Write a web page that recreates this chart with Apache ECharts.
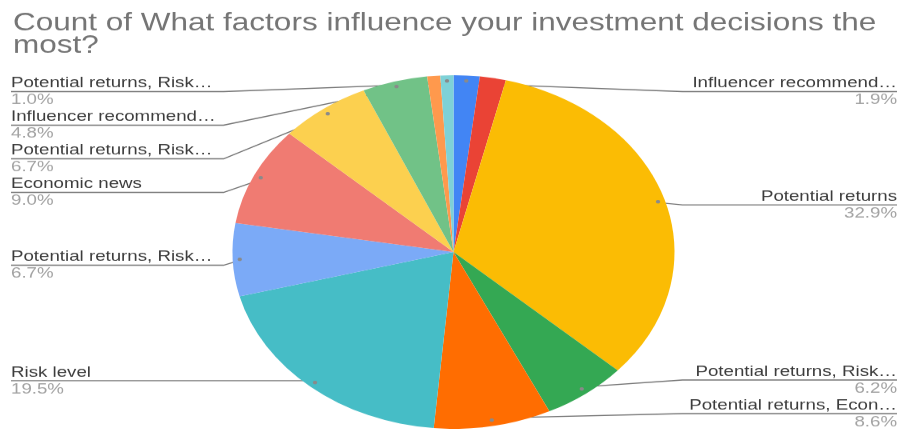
<!DOCTYPE html>
<html>
<head>
<meta charset="utf-8">
<script src="https://cdn.jsdelivr.net/npm/echarts@6/dist/echarts.min.js"></script>
<style>
  html, body { margin: 0; padding: 0; background: #fff; overflow: hidden; }
  #stage { width: 899px; height: 429px; overflow: hidden; }
  /* the chart is laid out round, then flattened vertically into an oval */
  #chart { width: 899px; height: 536px; transform: scaleY(0.8); transform-origin: 0 0; }
</style>
</head>
<body>
<div id="stage"><div id="chart"></div></div>
<script>
// ---- data ----
const titleText = 'Count of What factors influence your investment decisions the\nmost?';

const sliceNames = [
  'Influencer recommend…',
  '(other)',
  'Potential returns',
  'Potential returns, Risk…',
  'Potential returns, Econ…',
  'Risk level',
  'Potential returns, Risk…',
  'Economic news',
  'Potential returns, Risk…',
  'Influencer recommend…',
  '(other)',
  'Potential returns, Risk…'
];
const sliceCounts = [4, 4, 69, 13, 18, 41, 14, 19, 14, 10, 2, 2];
const sliceColors = [
  '#4285F4', '#EA4335', '#FBBC04', '#34A853', '#FF6D01', '#46BDC6',
  '#7BAAF7', '#F07B72', '#FCD04F', '#71C287', '#FF994D', '#7ED1D7'
];
const sliceLabelled = [true, false, true, true, true, true, true, true, true, true, false, true];

// ---- layout ----
const PIE_CX = 453.5, PIE_CY = 315, PIE_R = 221;
const DOT_R = 211;
const VIEW_LEFT = 9, VIEW_TOP = 93.5, VIEW_BOTTOM = -2;
const FONT = '"Liberation Sans", Arial, sans-serif';

const total = sliceCounts.reduce((a, b) => a + b, 0);

function pct(v) { return (v / total * 100).toFixed(1) + '%'; }

// Leader line: dot inside the slice -> elbow just outside the pie -> under the label text
function guideLayout(p) {
  if (!p.labelLinePoints || !p.labelRect) return {};
  const edge = p.labelLinePoints[0];
  const onLeft = edge[0] < PIE_CX;
  const k = DOT_R / PIE_R;
  const dot = [PIE_CX + (edge[0] - PIE_CX) * k, PIE_CY + (edge[1] - PIE_CY) * k];
  const y = p.labelRect.y + p.labelRect.height / 2;
  const elbowX = onLeft ? PIE_CX - PIE_R - 9 : PIE_CX + PIE_R + 8;
  const endX = onLeft ? p.labelRect.x : p.labelRect.x + p.labelRect.width;
  return { labelLinePoints: [dot, [elbowX, y], [endX, y]] };
}

const mainData = sliceCounts.map((v, i) => ({
  name: sliceNames[i],
  value: v,
  itemStyle: { color: sliceColors[i] },
  label: { show: sliceLabelled[i] },
  labelLine: { show: sliceLabelled[i] }
}));

const dotData = sliceCounts.map((v, i) => ({
  name: sliceNames[i],
  value: v,
  label: { show: sliceLabelled[i] }
}));

const chart = echarts.init(document.getElementById('chart'));
chart.setOption({
  backgroundColor: '#ffffff',
  animation: false,
  title: {
    text: titleText,
    left: 8,
    top: 10,
    textStyle: {
      fontFamily: FONT,
      fontSize: 31.5,
      fontWeight: 'normal',
      color: '#757575',
      lineHeight: 28
    }
  },
  series: [
    {
      type: 'pie',
      left: VIEW_LEFT, right: 0, top: VIEW_TOP, bottom: VIEW_BOTTOM,
      center: [PIE_CX - VIEW_LEFT, PIE_CY - VIEW_TOP],
      radius: PIE_R,
      startAngle: 90,
      clockwise: true,
      silent: true,
      avoidLabelOverlap: true,
      itemStyle: { borderWidth: 0 },
      emphasis: { disabled: true },
      label: {
        show: true,
        position: 'outside',
        alignTo: 'edge',
        edgeDistance: 2,
        formatter: p => '{n|' + p.name + '}\n{p|' + pct(p.value) + '}',
        rich: {
          n: { fontFamily: FONT, fontSize: 18.7, lineHeight: 21, color: '#3c3c3c' },
          p: { fontFamily: FONT, fontSize: 18.7, lineHeight: 21, color: '#a3a3a3' }
        }
      },
      labelLine: {
        show: true,
        length: DOT_R - PIE_R,
        length2: 5,
        lineStyle: { color: '#747474', width: 1.3 }
      },
      labelLayout: guideLayout,
      data: mainData
    },
    {
      // small markers where each leader line starts
      type: 'pie',
      left: VIEW_LEFT, right: 0, top: VIEW_TOP, bottom: VIEW_BOTTOM,
      center: [PIE_CX - VIEW_LEFT, PIE_CY - VIEW_TOP],
      radius: [DOT_R - 10, DOT_R + 10],
      startAngle: 90,
      clockwise: true,
      silent: true,
      emphasis: { disabled: true },
      itemStyle: { color: 'rgba(0,0,0,0)', borderWidth: 0 },
      label: {
        show: true,
        position: 'inside',
        formatter: '●',
        fontSize: 10,
        color: '#8a8a8a'
      },
      labelLine: { show: false },
      data: dotData
    }
  ]
});
</script>
</body>
</html>
